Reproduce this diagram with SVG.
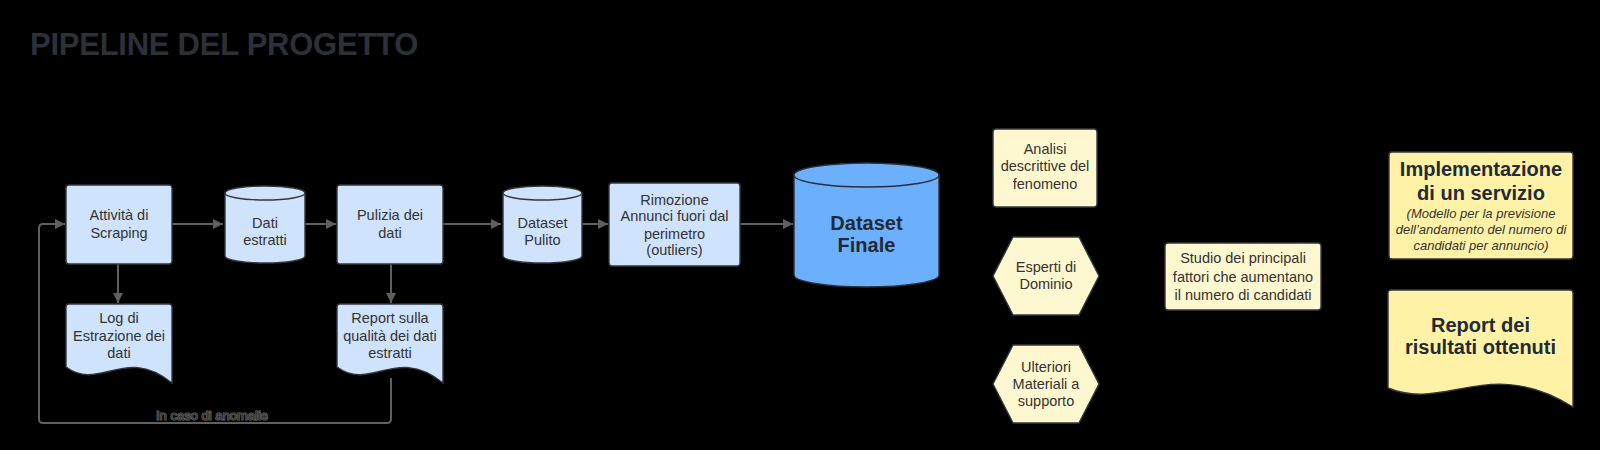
<svg xmlns="http://www.w3.org/2000/svg" width="1600" height="450" viewBox="0 0 1600 450">
<defs>
<style>
.t{font-family:"Liberation Sans",Arial,sans-serif;font-size:14.5px;fill:#333333;text-anchor:middle}
.b{font-family:"Liberation Sans",Arial,sans-serif;font-size:20px;font-weight:bold;fill:#222a35;text-anchor:middle}
.i{font-family:"Liberation Sans",Arial,sans-serif;font-size:13px;font-style:italic;fill:#333333;text-anchor:middle}
.blue{fill:#cfe3fc;stroke:#33373d;stroke-width:1.4}
.dblue{fill:#6cb0fd;stroke:#2a2f36;stroke-width:1.4}
.yel{fill:#fdf8cf;stroke:#33373d;stroke-width:1.4}
.yel2{fill:#fff2a6;stroke:#33373d;stroke-width:1.4}
.c{fill:none;stroke:#5f5f5f;stroke-width:2}
</style>
<marker id="ah" viewBox="0 0 10 10" refX="10" refY="5" markerWidth="10" markerHeight="10" markerUnits="userSpaceOnUse" orient="auto">
<path d="M0,0 L10,5 L0,10 Z" fill="#5f5f5f"/>
</marker>
</defs>
<rect x="0" y="0" width="1600" height="450" fill="#000000"/>
<text x="30" y="54.5" font-family="Liberation Sans, Arial, sans-serif" font-size="31" font-weight="bold" letter-spacing="-0.25" fill="#2c3038">PIPELINE DEL PROGETTO</text>

<g id="connectors">
<path class="c" d="M172,224 H223" marker-end="url(#ah)"/>
<path class="c" d="M305,224 H336" marker-end="url(#ah)"/>
<path class="c" d="M443,224 H501" marker-end="url(#ah)"/>
<path class="c" d="M582,224 H608" marker-end="url(#ah)"/>
<path class="c" d="M740,224 H793" marker-end="url(#ah)"/>
<path class="c" d="M118,264 V303" marker-end="url(#ah)"/>
<path class="c" d="M391,264 V303" marker-end="url(#ah)"/>
<path class="c" d="M391,378 V419 Q391,423 387,423 H43 Q39,423 39,419 V228 Q39,224 43,224 H65" marker-end="url(#ah)"/>
<text x="212" y="420" font-family="Liberation Sans, Arial, sans-serif" font-size="13" fill="#333333" stroke="#6a6a6a" stroke-width="1.2" paint-order="stroke" text-anchor="middle">In caso di anomalie</text>
</g>

<g id="scraping">
<rect class="blue" x="66" y="185" width="106" height="79" rx="3"/>
<text class="t" x="119" y="220">Attività di</text>
<text class="t" x="119" y="238">Scraping</text>
</g>

<g id="dati-estratti">
<path class="blue" d="M225,193 A40,7 0 0 1 305,193 V256 A40,7 0 0 1 225,256 Z"/>
<path class="blue" fill="none" d="M225,193 A40,7 0 0 0 305,193"/>
<text class="t" x="265" y="228">Dati</text>
<text class="t" x="265" y="245">estratti</text>
</g>

<g id="pulizia">
<rect class="blue" x="337" y="185" width="106" height="79" rx="3"/>
<text class="t" x="390" y="220">Pulizia dei</text>
<text class="t" x="390" y="238">dati</text>
</g>

<g id="log">
<path class="blue" d="M66,307 Q66,304 69,304 H169 Q172,304 172,307 V383 C125,345 100,392 66,367 Z"/>
<text class="t" x="119" y="323">Log di</text>
<text class="t" x="119" y="341">Estrazione dei</text>
<text class="t" x="119" y="358">dati</text>
</g>

<g id="report-qualita">
<path class="blue" d="M337,307 Q337,304 340,304 H440 Q443,304 443,307 V383 C396,345 371,392 337,367 Z"/>
<text class="t" x="390" y="323">Report sulla</text>
<text class="t" x="390" y="341">qualità dei dati</text>
<text class="t" x="390" y="358">estratti</text>
</g>

<g id="dataset-pulito">
<path class="blue" d="M503,193 A39.5,7 0 0 1 582,193 V256 A39.5,7 0 0 1 503,256 Z"/>
<path class="blue" fill="none" d="M503,193 A39.5,7 0 0 0 582,193"/>
<text class="t" x="542.5" y="228">Dataset</text>
<text class="t" x="542.5" y="244.5">Pulito</text>
</g>

<g id="rimozione">
<rect class="blue" x="609" y="183" width="131" height="83" rx="3"/>
<text class="t" x="674.5" y="204.5">Rimozione</text>
<text class="t" x="674.5" y="221">Annunci fuori dal</text>
<text class="t" x="674.5" y="238.5">perimetro</text>
<text class="t" x="674.5" y="255">(outliers)</text>
</g>

<g id="dataset-finale">
<path class="dblue" d="M794,175 A72.5,12 0 0 1 939,175 V275 A72.5,12 0 0 1 794,275 Z"/>
<path class="dblue" fill="none" d="M794,175 A72.5,12 0 0 0 939,175"/>
<text class="b" x="866.5" y="230">Dataset</text>
<text class="b" x="866.5" y="252">Finale</text>
</g>

<g id="analisi">
<rect class="yel" x="993" y="129" width="104" height="78" rx="3"/>
<text class="t" x="1045" y="153.5">Analisi</text>
<text class="t" x="1045" y="170.5">descrittive del</text>
<text class="t" x="1045" y="188.5">fenomeno</text>
</g>

<g id="esperti">
<path class="yel" stroke-linejoin="round" d="M993,276 L1013,237 H1079 L1099,276 L1079,315 H1013 Z"/>
<text class="t" x="1046" y="272">Esperti di</text>
<text class="t" x="1046" y="289">Dominio</text>
</g>

<g id="ulteriori">
<path class="yel" stroke-linejoin="round" d="M993,384 L1013,345 H1079 L1099,384 L1079,423 H1013 Z"/>
<text class="t" x="1046" y="372">Ulteriori</text>
<text class="t" x="1046" y="389">Materiali a</text>
<text class="t" x="1046" y="405.5">supporto</text>
</g>

<g id="studio">
<rect class="yel" x="1165" y="243" width="156" height="67" rx="3"/>
<text class="t" x="1243" y="263">Studio dei principali</text>
<text class="t" x="1243" y="281.5">fattori che aumentano</text>
<text class="t" x="1243" y="300">il numero di candidati</text>
</g>

<g id="implementazione">
<rect class="yel2" x="1389" y="152" width="184" height="107" rx="3"/>
<text class="b" x="1481" y="175.5">Implementazione</text>
<text class="b" x="1481" y="199.5">di un servizio</text>
<text class="i" x="1481" y="217.5">(Modello per la previsione</text>
<text class="i" x="1481" y="233.5">dell’andamento del numero di</text>
<text class="i" x="1481" y="249.5">candidati per annuncio)</text>
</g>

<g id="report-risultati">
<path class="yel2" d="M1388,293 Q1388,290 1391,290 H1570 Q1573,290 1573,293 V407 C1490,355 1445,412 1388,388 Z"/>
<text class="b" x="1480.5" y="332">Report dei</text>
<text class="b" x="1480.5" y="354">risultati ottenuti</text>
</g>
</svg>
